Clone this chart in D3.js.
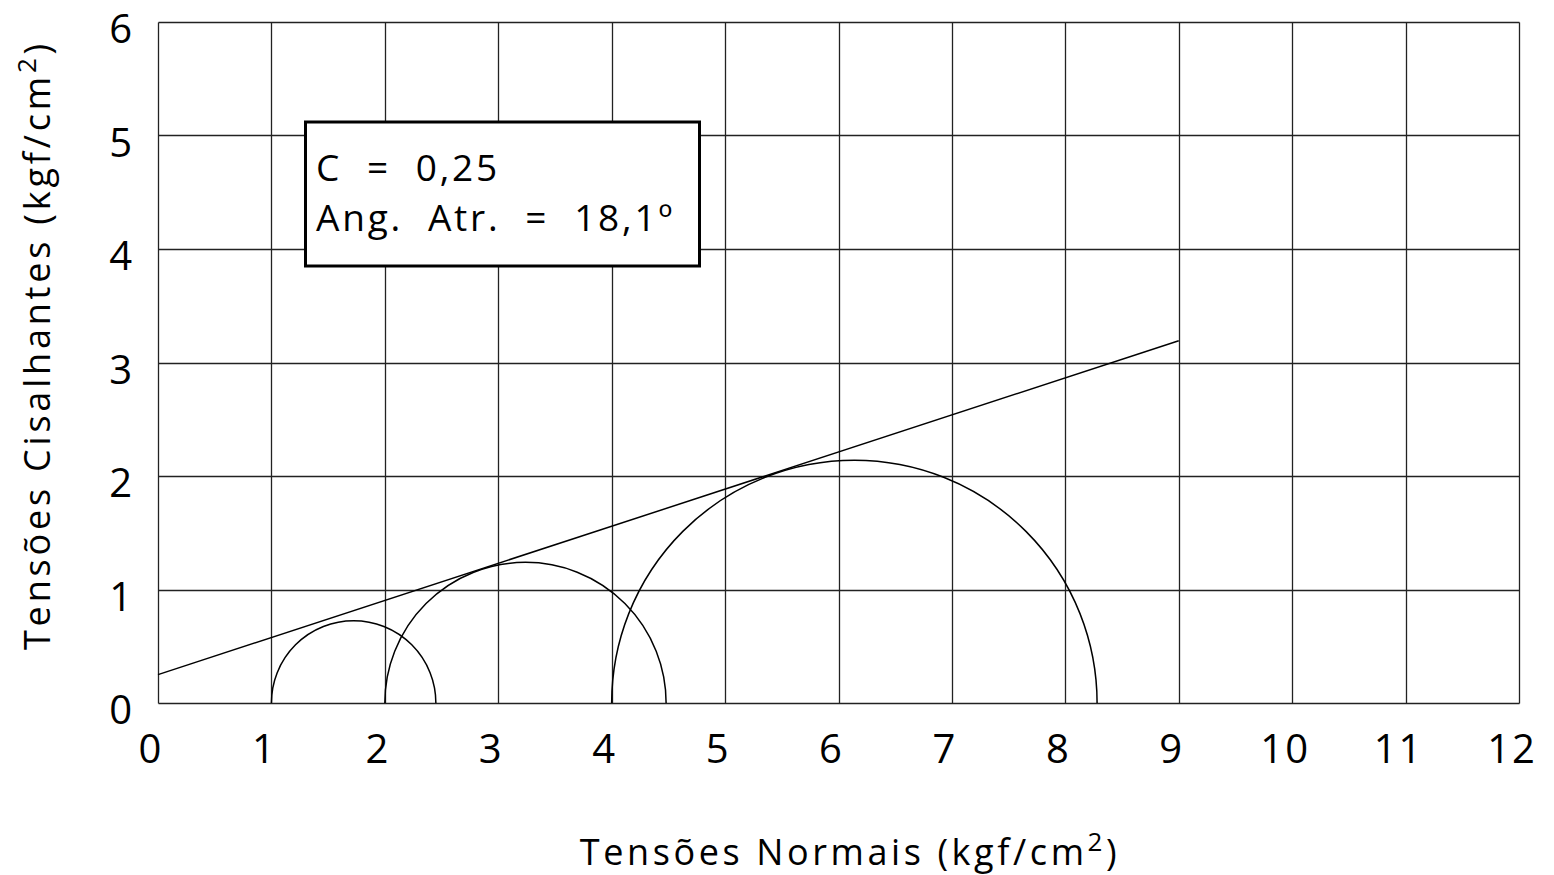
<!DOCTYPE html>
<html><head><meta charset="utf-8">
<script src="https://cdn.jsdelivr.net/npm/d3@7"></script>
<style>
html,body{margin:0;padding:0;background:#fff;}
text{font-family:"Open Sans","DejaVu Sans",sans-serif;fill:#000;}
</style></head><body>
<svg id="c" width="1554" height="875"></svg>
<script>
const xTicks = [0,1,2,3,4,5,6,7,8,9,10,11,12];
const yTicks = [0,1,2,3,4,5,6];
// Mohr circles: [sigma3, sigma1]
const sigma3 = [1.0, 2.0, 4.0];
const sigma1 = [2.45, 4.48, 8.28];
const cohesion = 0.25;
const phiDeg = 18.1;
const envelopeX = [0, 9];
const boxLines = ["C  =  0,25", "Ang.  Atr.  =  18,1º"];

const W = 1554, H = 875;
const m = {l:158, t:22, r:35, b:172};
const svg = d3.select("#c");
const x = d3.scaleLinear().domain([0,12]).range([m.l, W-m.r]);
const y = d3.scaleLinear().domain([0,6]).range([H-m.b, m.t]);
const px = v => Math.round(v)+0.5;

const grid = svg.append("g").attr("stroke","#222").attr("stroke-width",1.3);
xTicks.forEach(t=>grid.append("line").attr("x1",px(x(t))).attr("x2",px(x(t))).attr("y1",px(y(0))).attr("y2",px(y(6))));
yTicks.forEach(t=>grid.append("line").attr("x1",px(x(0))).attr("x2",px(x(12))).attr("y1",px(y(t))).attr("y2",px(y(t))));

const fs = 40;
svg.append("g").selectAll("text").data(xTicks).join("text")
  .attr("x",d=>x(d)-7).attr("y",y(0)+60).attr("text-anchor","middle")
  .attr("font-size",fs).attr("letter-spacing","2px").text(d=>d);
svg.append("g").selectAll("text").data(yTicks).join("text")
  .attr("x",x(0)-26).attr("y",d=>y(d)+21).attr("text-anchor","end")
  .attr("font-size",fs).text(d=>d);

// axis titles
const xt = svg.append("text").attr("x",850).attr("y",865).attr("text-anchor","middle")
  .attr("font-size",36).attr("letter-spacing","3.6px");
xt.append("tspan").text("Tensões Normais (kgf/cm");
xt.append("tspan").attr("dy",-14).attr("font-size",26).text("2");
xt.append("tspan").attr("dy",14).text(")");

const yt = svg.append("text").attr("transform","translate(50,345) rotate(-90)").attr("text-anchor","middle")
  .attr("font-size",36).attr("letter-spacing","3.8px");
yt.append("tspan").text("Tensões Cisalhantes (kgf/cm");
yt.append("tspan").attr("dy",-14).attr("font-size",26).text("2");
yt.append("tspan").attr("dy",14).text(")");

// circles
const circ = svg.append("g").attr("fill","none").attr("stroke","#000").attr("stroke-width",1.5);
sigma3.forEach((s3,i)=>{
  const s1 = sigma1[i];
  const rx = (x(s1)-x(s3))/2, ry = (y(0)-y((s1-s3)/2));
  circ.append("path").attr("d",`M${x(s3)},${y(0)} A${rx},${ry} 0 0 1 ${x(s1)},${y(0)}`);
});
// envelope
const tanp = Math.tan(phiDeg*Math.PI/180);
svg.append("path").attr("fill","none").attr("stroke","#000").attr("stroke-width",1.5)
  .attr("d",d3.line().x(d=>x(d)).y(d=>y(cohesion+tanp*d))(envelopeX));

// box
svg.append("rect").attr("x",305.5).attr("y",122).attr("width",394).attr("height",144)
  .attr("fill","#fff").attr("stroke","#000").attr("stroke-width",3);
boxLines.forEach((t,i)=>svg.append("text").attr("x",316).attr("y",181+i*50)
  .attr("font-size",37).attr("letter-spacing","2.8px").style("white-space","pre").text(t));
</script></body></html>
